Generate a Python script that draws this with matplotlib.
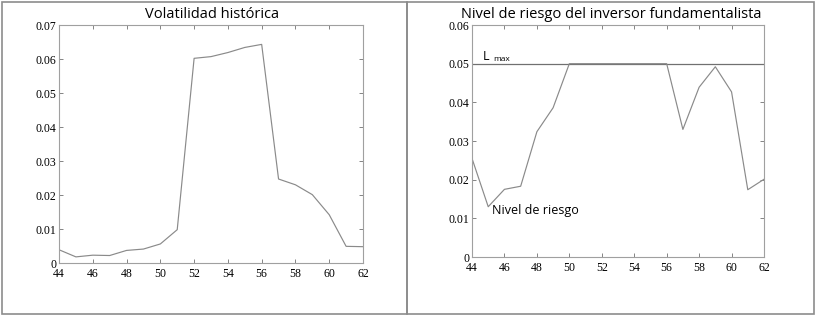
import matplotlib.pyplot as plt
from matplotlib.patches import Rectangle

# datos
t = list(range(44, 63))
volatilidad = [0.0039, 0.0018, 0.0023, 0.0022, 0.0037, 0.0041, 0.0056, 0.0098,
               0.0602, 0.0607, 0.0619, 0.0634, 0.0643, 0.0247, 0.0230, 0.0201,
               0.0142, 0.0049, 0.0048]
riesgo = [0.0255, 0.0130, 0.0175, 0.0183, 0.0324, 0.0386, 0.0500, 0.0500,
          0.0500, 0.0500, 0.0500, 0.0500, 0.0500, 0.0330, 0.0439, 0.0492,
          0.0427, 0.0174, 0.0201]
l_max = 0.05
xticks = [44, 46, 48, 50, 52, 54, 56, 58, 60, 62]

linea = '#8a8a8a'
borde = '#a0a0a0'
serif = 'Liberation Serif'
sans = 'Open Sans'

fig = plt.figure(figsize=(8.17, 3.16), dpi=100)

# marcos de los paneles
W, H = 817.0, 316.0
fig.patches.append(Rectangle((2/W, 2/H), 405/W, 312/H, transform=fig.transFigure,
                             fill=False, edgecolor='#8c8c8c', linewidth=1.2))
fig.patches.append(Rectangle((407/W, 2/H), 407/W, 312/H, transform=fig.transFigure,
                             fill=False, edgecolor='#8c8c8c', linewidth=1.2))

def estilo(ax):
    for s in ax.spines.values():
        s.set_color(borde)
        s.set_linewidth(0.8)
    ax.tick_params(direction='in', top=True, right=True, length=3, width=0.6,
                   color='#707070', labelsize=8.5, pad=2)
    ax.tick_params(axis='x', pad=3.5)
    for lab in ax.get_xticklabels() + ax.get_yticklabels():
        lab.set_fontfamily(serif)
    ax.set_xlim(44, 62)
    ax.set_xticks(xticks)

ax1 = fig.add_axes([59/W, 53/H, 304/W, 238/H])
ax1.plot(t, volatilidad, color=linea, linewidth=0.85)
ax1.set_ylim(0, 0.07)
ax1.set_yticks([0, 0.01, 0.02, 0.03, 0.04, 0.05, 0.06, 0.07])
ax1.set_yticklabels(['0', '0.01', '0.02', '0.03', '0.04', '0.05', '0.06', '0.07'])
estilo(ax1)
fig.text(212/W, 1 - 15/H, 'Volatilidad histórica', ha='center', va='center',
         fontsize=10.5, family=sans)

ax2 = fig.add_axes([472/W, 59/H, 292/W, 232/H])
ax2.axhline(l_max, color='#707070', linewidth=0.9)
ax2.plot(t, riesgo, color=linea, linewidth=0.85)
ax2.set_ylim(0, 0.06)
ax2.set_yticks([0, 0.01, 0.02, 0.03, 0.04, 0.05, 0.06])
ax2.set_yticklabels(['0', '0.01', '0.02', '0.03', '0.04', '0.05', '0.06'])
estilo(ax2)
ax2.text(44.65, 0.0518, 'L', fontsize=9, family=sans, va='center')
ax2.text(45.3, 0.0512, 'max', fontsize=6, family=sans, va='center')
ax2.text(45.25, 0.0119, 'Nivel de riesgo', fontsize=9, family=sans, va='center')
fig.text(611/W, 1 - 15/H, 'Nivel de riesgo del inversor fundamentalista',
         ha='center', va='center', fontsize=10.5, family=sans)

fig.savefig('out.png', dpi=100)
